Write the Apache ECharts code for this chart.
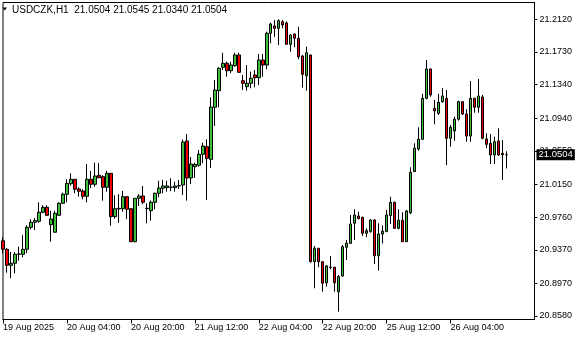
<!DOCTYPE html>
<html>
<head>
<meta charset="utf-8">
<script src="https://cdn.jsdelivr.net/npm/echarts@6/dist/echarts.min.js"></script>
<style>html,body{margin:0;padding:0;background:#fff}#c{width:580px;height:340px}</style>
</head>
<body>
<div id="c"></div>
<script>
var symbolName = 'USDCZK';
var timeframe = 'H1';
var xTickLabels = ['19 Aug 2025','20 Aug 04:00','20 Aug 20:00','21 Aug 12:00','22 Aug 04:00','22 Aug 20:00','25 Aug 12:00','26 Aug 04:00'];
var barsPerTick = 16;
var totalSlots = 134;
var yTicks = [20.8580, 20.8970, 20.9370, 20.9760, 21.0150, 21.0550, 21.0940, 21.1340, 21.1730, 21.2120];
var yMin = 20.8538, yMax = 21.2320;

var opens = [20.9478,20.9376,20.9185,20.9209,20.9316,20.9316,20.9376,20.9638,20.9698,20.9710,
20.9817,20.9877,20.9669,20.9579,20.9781,20.9925,21.0032,21.0158,21.0211,21.0095,
21.0071,21.0008,21.0211,21.0151,21.0259,21.0242,21.0115,21.0282,20.9765,20.9857,
20.9860,21.0003,20.9860,20.9466,20.9984,21.0012,20.9865,20.9836,20.9936,21.0044,
21.0104,21.0111,21.0115,21.0111,21.0131,21.0143,21.0668,21.0226,21.0361,21.0378,
21.0509,21.0600,21.0449,21.1070,21.1268,21.1547,21.1595,21.1506,21.1566,21.1694,
21.1387,21.1316,21.1356,21.1455,21.1423,21.1634,21.1574,21.1953,21.2040,21.2012,
21.2091,21.2076,21.1821,21.1944,21.1893,21.1682,21.1447,21.1694,20.9228,20.9388,
20.9228,20.8977,20.9161,20.9161,20.8870,20.9057,20.9400,20.9447,20.9686,20.9773,
20.9757,20.9567,20.9586,20.9725,20.9299,20.9558,20.9586,20.9777,20.9936,20.9626,
20.9722,20.9466,20.9812,21.0302,21.0572,21.0688,21.1177,21.1527,21.1058,21.0998,
21.1137,21.1177,21.0700,21.0787,21.0927,21.1137,21.0990,21.0727,21.1177,21.1070,
21.1193,21.0692,21.0640,21.0501,21.0668,21.0521,21.0504];
var highs = [20.9519,20.9391,20.9344,20.9344,20.9407,20.9543,20.9662,20.9734,20.9749,20.9936,
20.9901,20.9901,20.9836,20.9836,20.9936,21.0051,21.0211,21.0282,21.0214,21.0115,
21.0092,21.0393,21.0310,21.0409,21.0402,21.0259,21.0313,21.0285,21.0020,21.0032,
21.0071,21.0012,20.9863,20.9988,21.0032,21.0131,20.9925,20.9956,21.0051,21.0194,
21.0203,21.0194,21.0223,21.0182,21.0203,21.0686,21.0751,21.0477,21.0409,21.0560,
21.0648,21.0688,21.1189,21.1396,21.1547,21.1721,21.1614,21.1614,21.1721,21.1721,
21.1455,21.1574,21.1495,21.1515,21.1706,21.1706,21.1972,21.2079,21.2111,21.2120,
21.2111,21.2093,21.1944,21.1950,21.2031,21.1694,21.1793,21.1697,20.9415,20.9391,
20.9230,20.9188,20.9296,20.9168,20.9069,20.9427,20.9487,20.9785,20.9853,20.9824,
20.9765,20.9626,20.9734,20.9734,20.9686,20.9660,20.9845,21.0003,20.9944,20.9853,
20.9817,20.9845,21.0354,21.0640,21.0831,21.1229,21.1634,21.1530,21.1157,21.1229,
21.1297,21.1276,21.0859,21.0958,21.1149,21.1139,21.1046,21.1384,21.1184,21.1407,
21.1217,21.0760,21.0751,21.0719,21.0819,21.0680,21.0545];
var lows = [20.9328,20.9097,20.9030,20.9089,20.9240,20.9280,20.9328,20.9614,20.9606,20.9693,
20.9805,20.9773,20.9466,20.9579,20.9777,20.9916,20.9936,21.0135,21.0044,21.0003,
20.9972,20.9936,21.0104,21.0123,21.0223,20.9956,21.0063,20.9657,20.9741,20.9693,
20.9824,20.9734,20.9464,20.9463,20.9892,20.9913,20.9686,20.9717,20.9853,20.9996,
21.0044,21.0063,21.0068,21.0063,21.0095,21.0024,20.9956,21.0155,21.0226,21.0361,
21.0402,20.9964,21.0346,21.0847,21.1070,21.1515,21.1435,21.1475,21.1554,21.1483,
21.1276,21.1268,21.1297,21.1308,21.1336,21.1435,21.1523,21.1833,21.1912,21.1813,
21.2012,21.1819,21.1733,21.1786,21.1642,21.1304,21.1268,20.9216,20.8911,20.9161,
20.8870,20.8930,20.9137,20.8870,20.8631,20.9049,20.9248,20.9439,20.9487,20.9734,
20.9534,20.9519,20.9574,20.9200,20.9120,20.9445,20.9584,20.9678,20.9624,20.9614,
20.9463,20.9463,20.9797,21.0298,21.0552,21.0680,21.1165,21.1196,21.0867,21.0978,
21.1125,21.0381,21.0600,21.0671,21.0910,21.0978,21.0659,21.0659,21.1005,21.1005,
21.0688,21.0581,21.0393,21.0393,21.0489,21.0203,21.0340];
var closes = [20.9376,20.9185,20.9209,20.9316,20.9320,20.9376,20.9638,20.9698,20.9717,20.9817,
20.9877,20.9781,20.9737,20.9805,20.9925,21.0032,21.0163,21.0211,21.0092,21.0068,
21.0008,21.0211,21.0151,21.0250,21.0230,21.0115,21.0282,20.9765,20.9860,20.9865,
21.0003,20.9853,20.9466,20.9984,21.0012,20.9936,20.9861,20.9936,21.0044,21.0107,
21.0131,21.0131,21.0118,21.0131,21.0136,21.0656,21.0226,21.0393,21.0387,21.0509,
21.0608,21.0461,21.1073,21.1276,21.1535,21.1595,21.1506,21.1574,21.1694,21.1487,
21.1356,21.1356,21.1416,21.1423,21.1634,21.1574,21.1953,21.2064,21.2012,21.2103,
21.2052,21.1821,21.1932,21.1893,21.1673,21.1463,21.1721,20.9228,20.9388,20.9228,
20.8970,20.9177,20.9164,20.8977,20.9049,20.9407,20.9447,20.9678,20.9785,20.9741,
20.9567,20.9598,20.9725,20.9299,20.9558,20.9592,20.9785,20.9936,20.9626,20.9722,
20.9466,20.9833,21.0294,21.0581,21.0688,21.1177,21.1527,21.1217,21.1026,21.1129,
21.1205,21.0700,21.0831,21.0927,21.1137,21.0990,21.0727,21.1177,21.1070,21.1205,
21.0700,21.0628,21.0501,21.0659,21.0501,21.0504,21.0504];

var categories = [];
for (var i = 0; i < totalSlots; i++) {
  categories.push(i % barsPerTick === 0 && xTickLabels[i / barsPerTick] ? xTickLabels[i / barsPerTick] : '');
}
var candles = opens.map(function (o, k) { return [o, closes[k], lows[k], highs[k]]; });
var last = opens.length - 1;
var headerText = symbolName + ',' + timeframe + '  ' +
  [opens[last], highs[last], lows[last], closes[last]].map(function (v) { return v.toFixed(4); }).join(' ');
var tickShown = function (idx) { return idx % barsPerTick === 0 && !!categories[idx]; };
var FONT = 'Liberation Sans';

var chart = echarts.init(document.getElementById('c'), null, {renderer: 'canvas'});
chart.setOption({
  animation: false,
  backgroundColor: '#ffffff',
  title: {
    text: headerText, left: 12, top: 4, padding: 0,
    textStyle: {fontFamily: FONT, fontSize: 10, fontWeight: 'normal', color: '#000', lineHeight: 12}
  },
  graphic: [{
    type: 'polygon', shape: {points: [[2.5, 7.5], [7, 7.5], [4.75, 10.5]]},
    style: {fill: '#000'}, z: 10
  }],
  grid: {left: 2.5, top: 2.5, width: 532, height: 317, show: true, borderColor: '#000', borderWidth: 1, backgroundColor: '#fff'},
  xAxis: {
    type: 'category', data: categories, boundaryGap: false,
    axisLine: {show: true, lineStyle: {color: '#000', width: 1}},
    axisTick: {show: true, interval: tickShown, length: 4, lineStyle: {color: '#000'}},
    axisLabel: {interval: tickShown, align: 'left', margin: 4, fontSize: 9, fontFamily: FONT, color: '#000'},
    splitLine: {show: false}
  },
  yAxis: {
    type: 'value', position: 'right', min: yMin, max: yMax, scale: true,
    axisLine: {show: true, lineStyle: {color: '#000', width: 1}},
    axisTick: {show: true, customValues: yTicks, length: 3, lineStyle: {color: '#000'}},
    axisLabel: {customValues: yTicks, margin: 5, fontSize: 9, fontFamily: FONT, color: '#000',
      formatter: function (v) { return v.toFixed(4); }},
    splitLine: {show: false}
  },
  series: [{
    type: 'candlestick', data: candles, barWidth: 3, clip: true,
    itemStyle: {color: '#3cc03c', color0: '#f00000', borderColor: '#000', borderColor0: '#000', borderColorDoji: '#000', borderWidth: 1},
    markLine: {
      silent: true, symbol: ['none', 'none'], precision: 4,
      lineStyle: {color: 'rgba(0,0,0,0)', width: 1, type: 'solid'},
      emphasis: {disabled: true},
      label: {show: true, position: 'end', distance: 2, backgroundColor: '#000', color: '#fff',
        fontFamily: FONT, fontSize: 9.5, lineHeight: 10, padding: [1, 2, 0, 2],
        formatter: function (p) { return Number(p.value).toFixed(4); }},
      data: [{yAxis: closes[last]}]
    }
  }]
});
</script>
</body>
</html>
